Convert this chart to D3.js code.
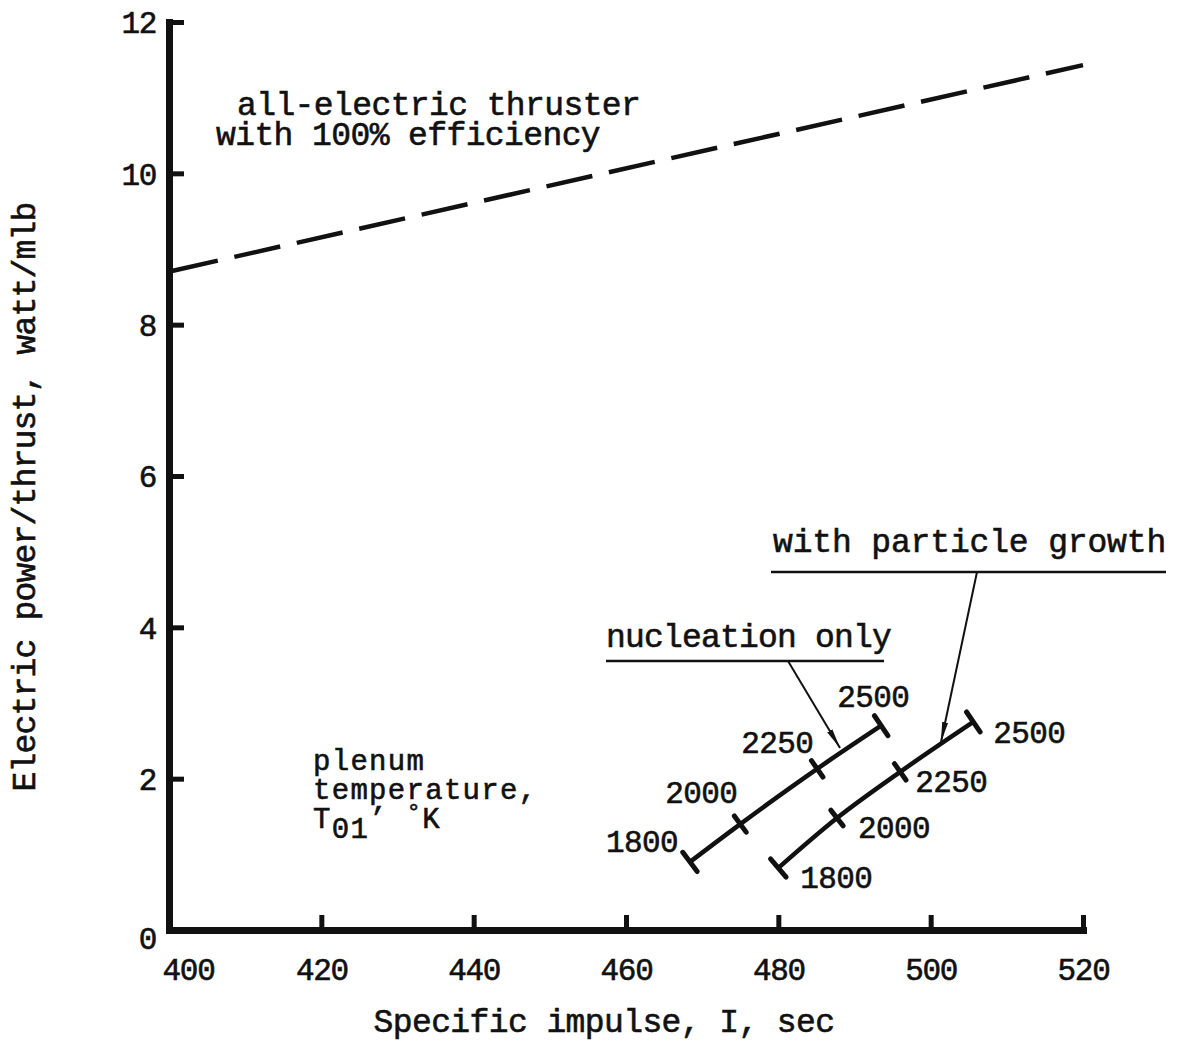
<!DOCTYPE html>
<html><head><meta charset="utf-8">
<script src="https://cdn.jsdelivr.net/npm/d3@7"></script>
<style>
html,body{margin:0;padding:0;background:#fff;}
svg text{font-family:"Liberation Mono","Courier New",monospace;fill:#111;stroke:#111;stroke-width:0.6px;}
</style></head>
<body>
<svg id="chart" width="1177" height="1042"></svg>
<script>
// ---- data ----
const xTicks = [400, 420, 440, 460, 480, 500, 520];
const yTicks = [0, 2, 4, 6, 8, 10, 12];
const electricLine = [[400, 8.70], [520, 11.43]];
const temps = ["1800", "2000", "2250", "2500"];
const nucleationX = [468.4, 475.0, 485.1, 493.5];
const nucleationY = [0.90, 1.40, 2.13, 2.70];
const growthX = [480.0, 487.7, 496.0, 505.6];
const growthY = [0.82, 1.48, 2.09, 2.75];
const xTitle = "Specific impulse, I, sec";
const yTitle = "Electric power/thrust, watt/mlb";

// ---- layout ----
const svg = d3.select("#chart");
svg.append("rect").attr("width", 1177).attr("height", 1042).attr("fill", "#fff");
const x = d3.scaleLinear().domain([400, 520]).range([169, 1083]);
const y = d3.scaleLinear().domain([0, 12]).range([930, 22]);

// axes
const gx = svg.append("g").attr("transform", `translate(0,${y(0)})`)
  .call(d3.axisBottom(x).tickValues(xTicks).tickSize(-15).tickSizeOuter(0).tickFormat(d3.format("d")));
gx.select(".domain").attr("stroke", "#111").attr("stroke-width", 7).attr("stroke-linecap", "square");
gx.selectAll(".tick line").attr("stroke", "#111").attr("stroke-width", 5);
gx.selectAll(".tick text").attr("y", 50).attr("dy", 0)
  .attr("font-size", 31).attr("letter-spacing", -1.3)
  .attr("dx", d => d === 400 ? 19 : 0);
gx.selectAll(".tick").filter(d => d === 400).select("line").remove();

const gy = svg.append("g").attr("transform", `translate(${x(400)},0)`)
  .call(d3.axisLeft(y).tickValues(yTicks).tickSize(-15).tickSizeOuter(0).tickFormat(d3.format("d")));
gy.select(".domain").attr("stroke", "#111").attr("stroke-width", 7).attr("stroke-linecap", "square");
gy.selectAll(".tick line").attr("stroke", "#111").attr("stroke-width", 5);
gy.selectAll(".tick").filter(d => d === 0).select("line").remove();
gy.selectAll(".tick text").attr("x", -13).attr("dy", "0.35em")
  .attr("font-size", 31).attr("letter-spacing", -1.3)
  .attr("transform", d => d === 0 ? "translate(0,8)" : null);
svg.selectAll(".domain").attr("fill", "none");

// axis titles
svg.append("text").attr("x", 604).attr("y", 1032).attr("text-anchor", "middle")
  .attr("font-size", 33).attr("letter-spacing", -0.6).text(xTitle);
svg.append("text").attr("transform", "translate(35,497) rotate(-90)").attr("text-anchor", "middle")
  .attr("font-size", 33).attr("letter-spacing", -0.8).text(yTitle);

// dashed all-electric line
const line = d3.line().x(d => x(d[0])).y(d => y(d[1]));
svg.append("path").datum(electricLine).attr("d", line)
  .attr("fill", "none").attr("stroke", "#111").attr("stroke-width", 4.5)
  .attr("stroke-dasharray", "47 17").attr("stroke-dashoffset", -3);

svg.append("text").attr("x", 237).attr("y", 115).attr("font-size", 33).attr("letter-spacing", -0.6)
  .text("all-electric thruster");
svg.append("text").attr("x", 216).attr("y", 145).attr("font-size", 33).attr("letter-spacing", -0.6)
  .text("with 100% efficiency");

// temperature curves
const curve = d3.line().x(d => x(d[0])).y(d => y(d[1])).curve(d3.curveMonotoneX);
function series(xs, ys, labelOffsets) {
  const pts = xs.map((v, i) => [v, ys[i]]);
  svg.append("path").datum(pts).attr("d", curve)
    .attr("fill", "none").attr("stroke", "#111").attr("stroke-width", 4.5);
  pts.forEach((p, i) => {
    const a = pts[Math.max(0, i - 1)], b = pts[Math.min(pts.length - 1, i + 1)];
    const dx = x(b[0]) - x(a[0]), dy = y(b[1]) - y(a[1]);
    const len = Math.hypot(dx, dy);
    const nx = -dy / len, ny = dx / len;
    const h = (i === 0 || i === pts.length - 1) ? 12 : 10;
    const cx = x(p[0]), cy = y(p[1]);
    svg.append("line").attr("x1", cx - nx * h).attr("y1", cy - ny * h)
      .attr("x2", cx + nx * h).attr("y2", cy + ny * h)
      .attr("stroke", "#111").attr("stroke-width", 5).attr("stroke-linecap", "round");
    const o = labelOffsets[i];
    svg.append("text").attr("x", cx + o[0]).attr("y", cy + o[1]).attr("text-anchor", o[2])
      .attr("font-size", 31).attr("letter-spacing", -0.6).text(temps[i]);
  });
}
series(nucleationX, nucleationY, [[-12, -10, "end"], [-3, -21, "end"], [-4, -16, "end"], [-8, -19, "middle"]]);
series(growthX, growthY, [[22, 20, "start"], [21, 20, "start"], [15, 20, "start"], [20, 21, "start"]]);

// labels with underline and arrows
svg.append("defs").append("marker").attr("id", "ah").attr("viewBox", "0 0 20 10")
  .attr("refX", 20).attr("refY", 5).attr("markerWidth", 20).attr("markerHeight", 10)
  .attr("markerUnits", "userSpaceOnUse").attr("orient", "auto")
  .append("path").attr("d", "M0,2 L20,5 L0,8 Z").attr("fill", "#111");

svg.append("text").attr("x", 773).attr("y", 552).attr("font-size", 33).attr("letter-spacing", -0.15)
  .text("with particle growth");
svg.append("line").attr("x1", 771).attr("y1", 572).attr("x2", 1166).attr("y2", 572)
  .attr("stroke", "#111").attr("stroke-width", 2.5);
svg.append("line").attr("x1", 977).attr("y1", 572).attr("x2", 941).attr("y2", 742)
  .attr("stroke", "#111").attr("stroke-width", 2).attr("marker-end", "url(#ah)");

svg.append("text").attr("x", 606).attr("y", 647).attr("font-size", 33).attr("letter-spacing", -0.8)
  .text("nucleation only");
svg.append("line").attr("x1", 606).attr("y1", 661).attr("x2", 884).attr("y2", 661)
  .attr("stroke", "#111").attr("stroke-width", 2.5);
svg.append("line").attr("x1", 788).attr("y1", 661).attr("x2", 840).attr("y2", 748)
  .attr("stroke", "#111").attr("stroke-width", 2).attr("marker-end", "url(#ah)");

// plenum temperature label
const pf = 29, pls = 1.3;
svg.append("text").attr("x", 313).attr("y", 770).attr("font-size", pf).attr("letter-spacing", pls).text("plenum");
svg.append("text").attr("x", 313).attr("y", 799).attr("font-size", pf).attr("letter-spacing", pls).text("temperature,");
const t = svg.append("text").attr("x", 313).attr("y", 828).attr("font-size", pf).attr("letter-spacing", pls);
t.append("tspan").text("T");
t.append("tspan").attr("dy", 10).text("01");
t.append("tspan").attr("dy", -10).text("\u2019 ");
t.append("tspan").attr("dy", -8).attr("font-size", 24).text("\u00b0");
t.append("tspan").attr("dy", 8).text("K");
</script>
</body></html>
